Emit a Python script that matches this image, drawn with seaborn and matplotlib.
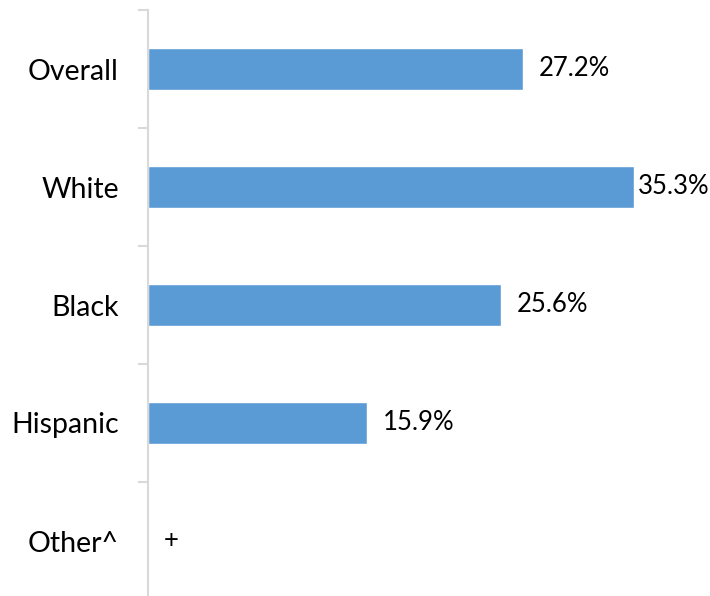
import numpy as np
import pandas as pd
import matplotlib
matplotlib.use("Agg")
import matplotlib.pyplot as plt
import seaborn as sns

# chart data
categories = ["Overall", "White", "Black", "Hispanic", "Other^"]
values = [27.2, 35.3, 25.6, 15.9, np.nan]   # Other^ is suppressed
value_labels = ["27.2%", "35.3%", "25.6%", "15.9%", "+"]

sns.set_style("white")
plt.rcParams["font.family"] = ["Lato", "DejaVu Sans"]

df = pd.DataFrame({"group": categories, "pct": values})

fig = plt.figure(figsize=(7.10, 5.96), dpi=100)
ax = fig.add_axes([148 / 710, -4 / 596, 562 / 710, 590 / 596])

sns.barplot(data=df, x="pct", y="group", order=categories, color="#5B9BD5",
            width=0.35, saturation=1, ax=ax, orient="h")

ax.set_xlim(0, 40.8)
ax.set_ylim(4.5, -0.5)

# value labels to the right of the bars (pulled in if they would run off the edge)
fig.canvas.draw()
renderer = fig.canvas.get_renderer()
for i, (v, lab) in enumerate(zip(values, value_labels)):
    x = 0 if np.isnan(v) else v
    t = ax.annotate(lab, xy=(x, i), xytext=(16, 0), textcoords="offset pixels",
                    ha="left", va="center", fontsize=18.5, color="black")
    bb = t.get_window_extent(renderer)
    over = bb.x1 - (fig.bbox.width - 2)
    if over > 0:
        t.set_position((max(16 - over, 4), 0))

ax.set_xlabel("")
ax.set_ylabel("")
ax.set_xticks([])
ax.tick_params(axis="y", which="major", left=False, length=0, pad=21,
               labelsize=20.5, labelcolor="black")
ax.set_yticks(np.arange(-0.5, 5.0, 1.0), minor=True)
ax.tick_params(axis="y", which="minor", left=True, length=7.2, width=1.5, color="#D9D9D9")

for s in ["top", "right", "bottom"]:
    ax.spines[s].set_visible(False)
ax.spines["left"].set_color("#D9D9D9")
ax.spines["left"].set_linewidth(1.5)

fig.savefig("out.png", dpi=100)
